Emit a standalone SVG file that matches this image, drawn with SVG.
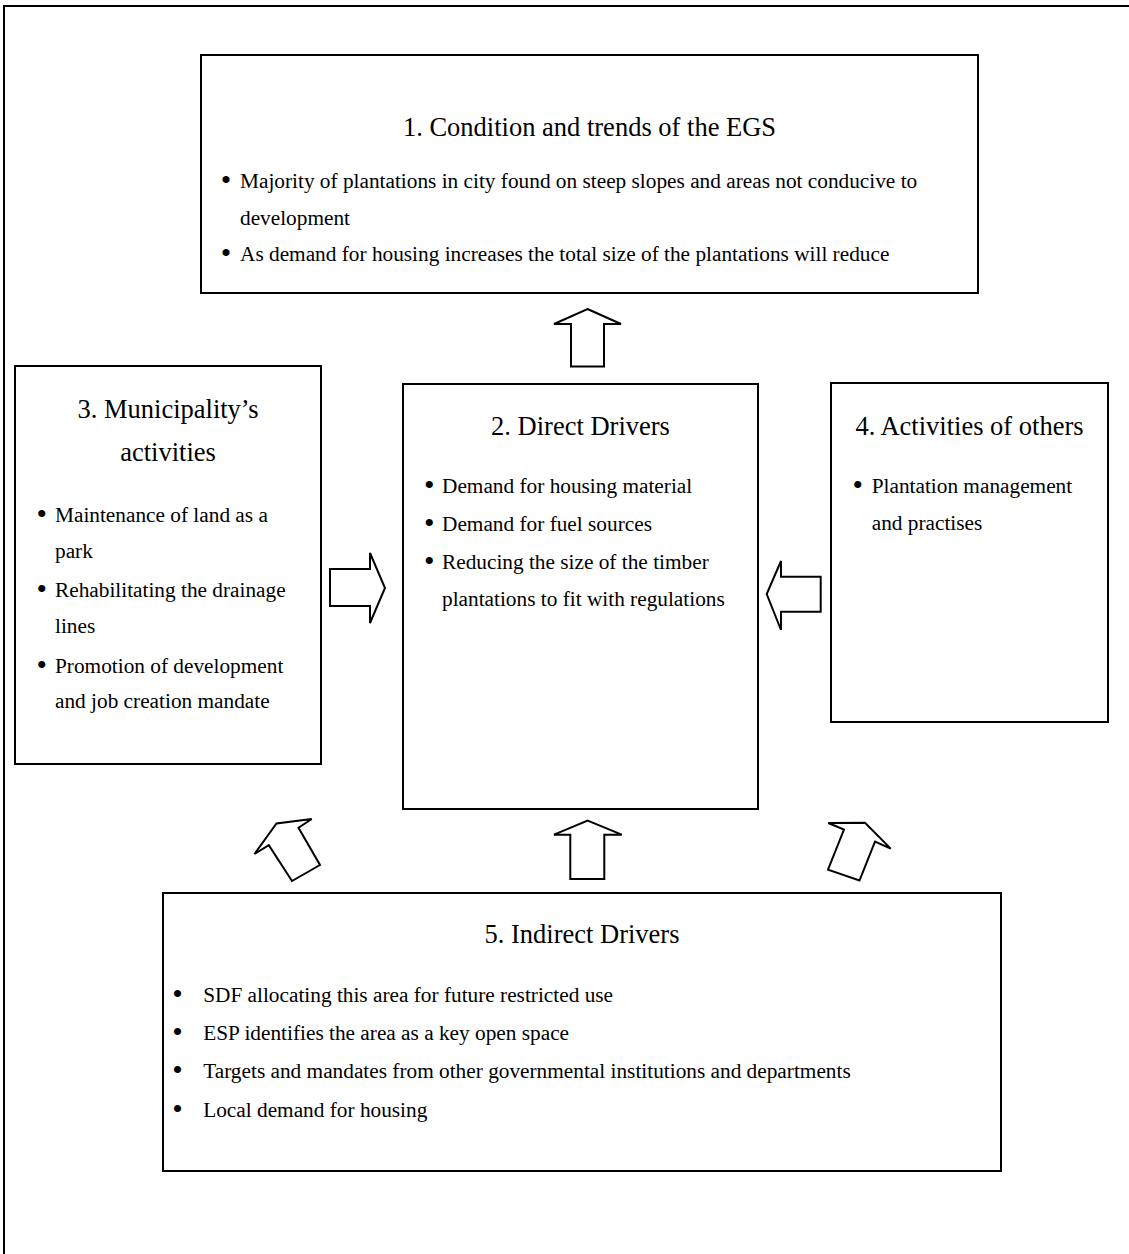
<svg xmlns="http://www.w3.org/2000/svg" width="1129" height="1254" viewBox="0 0 1129 1254">
<style>
.box{fill:#fff;stroke:#000;stroke-width:2}
.arr{fill:#fff;stroke:#000;stroke-width:2;stroke-linejoin:miter}
.t{font-family:"Liberation Serif","Times New Roman",serif;font-size:26.5px;fill:#000;text-anchor:middle}
.b{font-family:"Liberation Serif","Times New Roman",serif;font-size:21.3px;fill:#000}
.d{font-family:"Liberation Serif","Times New Roman",serif;font-size:30px;fill:#000;text-anchor:middle}
</style>
<rect width="1129" height="1254" fill="#fff"/>
<path d="M4,1254 V6 H1129" fill="none" stroke="#000" stroke-width="2"/>

<g id="node1">
<rect class="box" x="201" y="55" width="777" height="238"/>
<text class="t" x="589.5" y="136">1. Condition and trends of the EGS</text>
<text class="d" x="226" y="190">•</text>
<text class="b" x="240" y="188">Majority of plantations in city found on steep slopes and areas not conducive to</text>
<text class="b" x="240" y="225">development</text>
<text class="d" x="226" y="263">•</text>
<text class="b" x="240" y="261">As demand for housing increases the total size of the plantations will reduce</text>
</g>

<g id="node2">
<rect class="box" x="403" y="384" width="355" height="425"/>
<text class="t" x="580.5" y="435">2. Direct Drivers</text>
<text class="d" x="429.3" y="494.7">•</text>
<text class="b" x="442" y="492.7">Demand for housing material</text>
<text class="d" x="429.3" y="533">•</text>
<text class="b" x="442" y="531">Demand for fuel sources</text>
<text class="d" x="429.3" y="571.3">•</text>
<text class="b" x="442" y="569.3">Reducing the size of the timber</text>
<text class="b" x="442" y="606">plantations to fit with regulations</text>
</g>

<g id="node3">
<rect class="box" x="15" y="366" width="306" height="398"/>
<text class="t" x="168" y="418.3">3. Municipality’s</text>
<text class="t" x="168" y="460.5">activities</text>
<text class="d" x="41.7" y="523.7">•</text>
<text class="b" x="55" y="521.7">Maintenance of land as a</text>
<text class="b" x="55" y="558.3">park</text>
<text class="d" x="41.7" y="599.3">•</text>
<text class="b" x="55" y="597.3">Rehabilitating the drainage</text>
<text class="b" x="55" y="633.3">lines</text>
<text class="d" x="41.7" y="675.3">•</text>
<text class="b" x="55" y="673.3">Promotion of development</text>
<text class="b" x="55" y="708.3">and job creation mandate</text>
</g>

<g id="node4">
<rect class="box" x="831" y="383" width="277" height="339"/>
<text class="t" x="969.5" y="435">4. Activities of others</text>
<text class="d" x="857.7" y="494.5">•</text>
<text class="b" x="871.7" y="492.5">Plantation management</text>
<text class="b" x="871.7" y="530">and practises</text>
</g>

<g id="node5">
<rect class="box" x="163" y="893" width="838" height="278"/>
<text class="t" x="582" y="943.3">5. Indirect Drivers</text>
<text class="d" x="177.4" y="1003.7">•</text>
<text class="b" x="203.2" y="1001.7">SDF allocating this area for future restricted use</text>
<text class="d" x="177.4" y="1042">•</text>
<text class="b" x="203.2" y="1040">ESP identifies the area as a key open space</text>
<text class="d" x="177.4" y="1080.3">•</text>
<text class="b" x="203.2" y="1078.3">Targets and mandates from other governmental institutions and departments</text>
<text class="d" x="177.4" y="1118.7">•</text>
<text class="b" x="203.2" y="1116.7">Local demand for housing</text>
</g>

<g id="connectors">
<polygon class="arr" points="587.5,309 621,324 604,324 604,366.5 571,366.5 571,324 554,324"/>
<polygon class="arr" points="330,569 370,569 370,553 385,588 370,623 370,606 330,606"/>
<polygon class="arr" points="820.7,576.7 781,576.7 781,561 766.7,594 781,630 781,611.7 820.7,611.7"/>
<polygon class="arr" points="587.7,820.7 621.7,834.7 604.3,834.7 604.3,879 570.3,879 570.3,834.7 554,834.7"/>
<polygon class="arr" points="254.5,854 276.5,823.5 311.7,819 298.5,827.7 320,865 292,881 268.8,845.2"/>
<polygon class="arr" points="828.3,823 865,822.7 890.7,848.6 875,841.7 859.5,880.5 828,869.7 844,829.6"/>
</g>
</svg>
